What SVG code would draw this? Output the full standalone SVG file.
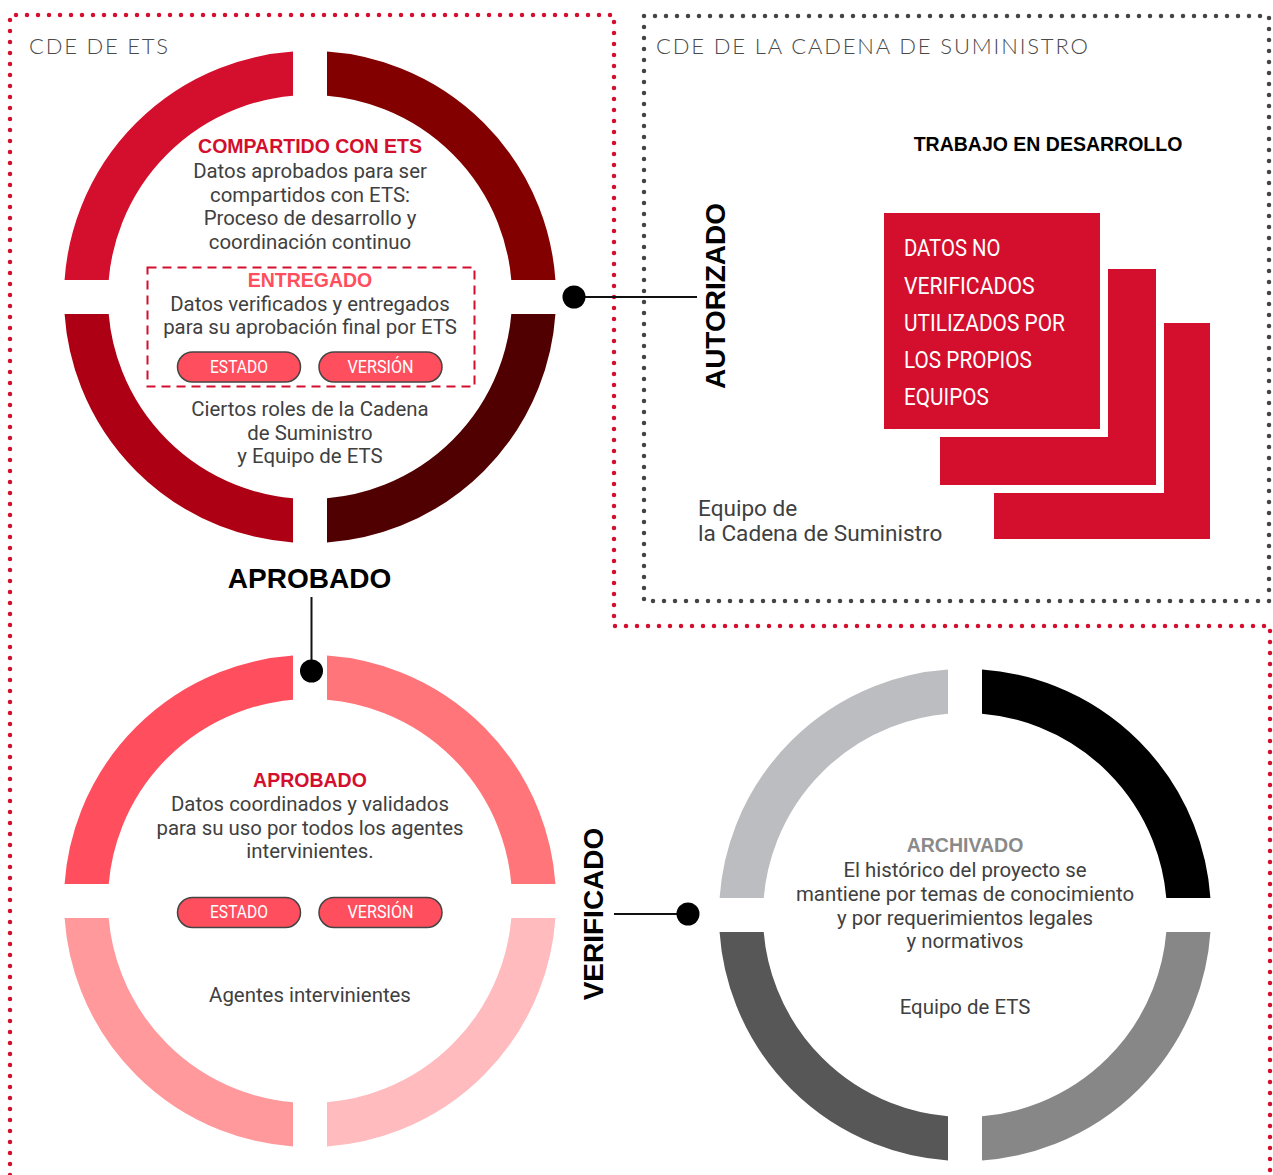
<svg xmlns="http://www.w3.org/2000/svg" width="1273" height="1175" viewBox="0 0 1273 1175">
<defs>
<style>
.seg{fill:none;stroke-width:44}
.body{font-family:Roboto,"Liberation Sans",sans-serif;font-size:20.4px;fill:#404040;text-anchor:middle}
.ttl{font-family:"Liberation Sans",Arial,sans-serif;font-weight:700;font-size:19.5px;text-anchor:middle}
.big{font-family:"Liberation Sans",Arial,sans-serif;font-weight:700;font-size:28px;fill:#000;text-anchor:middle}
.hdr{font-family:Lato,"Liberation Sans",sans-serif;font-weight:300;font-size:22px;fill:#4a4a4a}
.pill{fill:#FF4F5E;stroke:#444;stroke-width:1.5}
.pilltxt{font-family:Roboto,"Liberation Sans",sans-serif;font-size:18px;fill:#fff;text-anchor:middle}
.box{fill:#D30F2D}
.halo{fill:#fff}
.boxtxt{font-family:Roboto,"Liberation Sans",sans-serif;font-size:23px;fill:#fff}
.conn{stroke:#111;stroke-width:2;fill:none}
.dot{fill:#000}
.reddots{fill:none;stroke:#D30F2D;stroke-width:4.5;stroke-linecap:round;stroke-dasharray:0 11}
.graydots{fill:none;stroke:#444;stroke-width:4.5;stroke-linecap:round;stroke-dasharray:0 11}
</style>
<clipPath id="qtl" clipPathUnits="userSpaceOnUse"><rect x="-260" y="-260" width="243" height="243"/></clipPath>
<clipPath id="qtr" clipPathUnits="userSpaceOnUse"><rect x="17" y="-260" width="243" height="243"/></clipPath>
<clipPath id="qbl" clipPathUnits="userSpaceOnUse"><rect x="-260" y="17" width="243" height="243"/></clipPath>
<clipPath id="qbr" clipPathUnits="userSpaceOnUse"><rect x="17" y="17" width="243" height="243"/></clipPath>
</defs>
<rect width="1273" height="1175" fill="#fff"/>

<g id="cde-ets-border">
<path class="reddots" d="M10,1175 V15 H614 V626 H1270 V1175"/>
<text class="hdr" x="29" y="54" textLength="139">CDE DE ETS</text>
</g>

<g id="cde-supply-border">
<rect class="graydots" x="644" y="16" width="625" height="585"/>
<text class="hdr" x="656" y="54" textLength="432">CDE DE LA CADENA DE SUMINISTRO</text>
</g>

<g id="ring-compartido">
<g transform="translate(310,297)">
<circle class="seg" r="224" stroke="#D30F2D" clip-path="url(#qtl)"/>
<circle class="seg" r="224" stroke="#830000" clip-path="url(#qtr)"/>
<circle class="seg" r="224" stroke="#AD0015" clip-path="url(#qbl)"/>
<circle class="seg" r="224" stroke="#500000" clip-path="url(#qbr)"/>
</g>
<text class="ttl" x="310" y="153" fill="#D30F2D">COMPARTIDO CON ETS</text>
<text class="body" x="310" y="178">Datos aprobados para ser</text>
<text class="body" x="310" y="201.5">compartidos con ETS:</text>
<text class="body" x="310" y="225">Proceso de desarrollo y</text>
<text class="body" x="310" y="248.5">coordinación continuo</text>
<g id="entregado">
<rect x="147.5" y="267.5" width="327" height="119" fill="none" stroke="#D30F2D" stroke-width="2" stroke-dasharray="9 6"/>
<text class="ttl" x="310" y="287" fill="#FF4F5E">ENTREGADO</text>
<text class="body" x="310" y="310.7">Datos verificados y entregados</text>
<text class="body" x="310" y="334.2">para su aprobación final por ETS</text>
<rect class="pill" x="177.5" y="352" width="123" height="30" rx="15"/>
<text class="pilltxt" x="239" y="373" textLength="58" lengthAdjust="spacingAndGlyphs">ESTADO</text>
<rect class="pill" x="319" y="352" width="123" height="30" rx="15"/>
<text class="pilltxt" x="380.5" y="373" textLength="66" lengthAdjust="spacingAndGlyphs">VERSIÓN</text>
</g>
<text class="body" x="310" y="416">Ciertos roles de la Cadena</text>
<text class="body" x="310" y="439.5">de Suministro</text>
<text class="body" x="310" y="463">y Equipo de ETS</text>
</g>

<g id="wip">
<text class="ttl" x="1048" y="150.7" fill="#000">TRABAJO EN DESARROLLO</text>
<rect class="box" x="994" y="323" width="216" height="216"/>
<rect class="halo" x="932" y="261" width="232" height="232"/>
<rect class="box" x="940" y="269" width="216" height="216"/>
<rect class="halo" x="876" y="205" width="232" height="232"/>
<rect class="box" x="884" y="213" width="216" height="216"/>
<text class="boxtxt" x="904" y="256" textLength="96.5" lengthAdjust="spacingAndGlyphs">DATOS NO</text>
<text class="boxtxt" x="904" y="294" textLength="130.6" lengthAdjust="spacingAndGlyphs">VERIFICADOS</text>
<text class="boxtxt" x="904" y="331" textLength="161" lengthAdjust="spacingAndGlyphs">UTILIZADOS POR</text>
<text class="boxtxt" x="904" y="368" textLength="127.8" lengthAdjust="spacingAndGlyphs">LOS PROPIOS</text>
<text class="boxtxt" x="904" y="405" textLength="84.8" lengthAdjust="spacingAndGlyphs">EQUIPOS</text>
<text class="body" x="698" y="516" style="text-anchor:start;font-size:22.6px">Equipo de</text>
<text class="body" x="698" y="541" style="text-anchor:start;font-size:22.6px">la Cadena de Suministro</text>
</g>

<g id="ring-aprobado">
<g transform="translate(310,901)">
<circle class="seg" r="224" stroke="#FF4F5F" clip-path="url(#qtl)"/>
<circle class="seg" r="224" stroke="#FF7579" clip-path="url(#qtr)"/>
<circle class="seg" r="224" stroke="#FF999C" clip-path="url(#qbl)"/>
<circle class="seg" r="224" stroke="#FFBBBD" clip-path="url(#qbr)"/>
</g>
<text class="ttl" x="310" y="786.7" fill="#D30F2D">APROBADO</text>
<text class="body" x="310" y="811">Datos coordinados y validados</text>
<text class="body" x="310" y="834.5">para su uso por todos los agentes</text>
<text class="body" x="310" y="858">intervinientes.</text>
<rect class="pill" x="177.5" y="897.5" width="123" height="30" rx="15"/>
<text class="pilltxt" x="239" y="918.3" textLength="58" lengthAdjust="spacingAndGlyphs">ESTADO</text>
<rect class="pill" x="319" y="897.5" width="123" height="30" rx="15"/>
<text class="pilltxt" x="380.5" y="918.3" textLength="66" lengthAdjust="spacingAndGlyphs">VERSIÓN</text>
<text class="body" x="310" y="1001.7">Agentes intervinientes</text>
</g>

<g id="ring-archivado">
<g transform="translate(965,915)">
<circle class="seg" r="224" stroke="#BCBDC0" clip-path="url(#qtl)"/>
<circle class="seg" r="224" stroke="#000000" clip-path="url(#qtr)"/>
<circle class="seg" r="224" stroke="#575757" clip-path="url(#qbl)"/>
<circle class="seg" r="224" stroke="#878787" clip-path="url(#qbr)"/>
</g>
<text class="ttl" x="965" y="851.5" fill="#8A8A8A">ARCHIVADO</text>
<text class="body" x="965" y="876.5">El histórico del proyecto se</text>
<text class="body" x="965" y="900.5">mantiene por temas de conocimiento</text>
<text class="body" x="965" y="924.5">y por requerimientos legales</text>
<text class="body" x="965" y="948">y normativos</text>
<text class="body" x="965" y="1013.5">Equipo de ETS</text>
</g>

<g id="connectors">
<line class="conn" x1="574" y1="297" x2="697" y2="297"/>
<circle class="dot" cx="574" cy="297" r="11.5"/>
<line class="conn" x1="311.5" y1="597" x2="311.5" y2="671"/>
<circle class="dot" cx="311.5" cy="671" r="11.5"/>
<line class="conn" x1="614" y1="914" x2="688" y2="914"/>
<circle class="dot" cx="688" cy="914" r="11.5"/>
</g>

<g id="labels">
<text class="big" transform="translate(725,296) rotate(-90)">AUTORIZADO</text>
<text class="big" x="309.5" y="588">APROBADO</text>
<text class="big" transform="translate(603,914) rotate(-90)">VERIFICADO</text>
</g>
</svg>
